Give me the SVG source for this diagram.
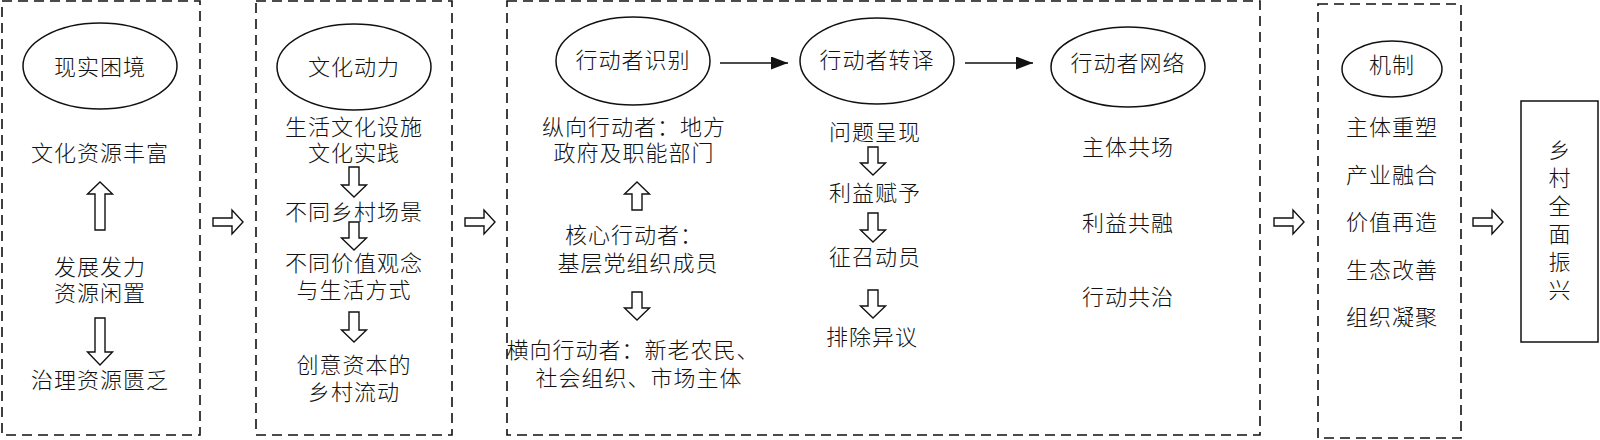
<svg xmlns="http://www.w3.org/2000/svg" width="1600" height="440" viewBox="0 0 1600 440">
<style>
.frame{fill:none;stroke:#111;stroke-width:1.6;stroke-dasharray:10 6}
.ell{fill:#fff;stroke:#111;stroke-width:1.5}
.box{fill:#fff;stroke:#111;stroke-width:1.5}
.hollow{fill:#fff;stroke:#111;stroke-width:1.4;stroke-linejoin:miter}
.conn{stroke:#111;stroke-width:1.6;fill:none}
text{font-family:"Liberation Sans","Noto Sans CJK SC",sans-serif;font-weight:300;font-size:22px;fill:#111;text-anchor:middle;dominant-baseline:central;letter-spacing:1px}
</style>
<defs>
<marker id="ah" markerWidth="17" markerHeight="13" refX="17" refY="6.5" orient="auto" markerUnits="userSpaceOnUse">
<path d="M0,0 L17,6.5 L0,13 Z" fill="#111"/>
</marker>
</defs>
<rect width="1600" height="440" fill="#fff"/>

<g id="stage1">
<rect class="frame" x="2" y="1" width="198" height="434"/>
<ellipse class="ell" cx="100" cy="66" rx="77" ry="43"/>
<text x="100" y="67">现实困境</text>
<text x="100" y="153">文化资源丰富</text>
<polygon class="hollow" points="100,182 112.5,194 105,194 105,230 95,230 95,194 87.5,194"/>
<text x="100" y="267">发展发力</text>
<text x="100" y="293">资源闲置</text>
<polygon class="hollow" points="95,318 105,318 105,352 112.5,352 100,365 87.5,352 95,352"/>
<text x="100" y="380">治理资源匮乏</text>
</g>

<g id="stage2">
<rect class="frame" x="256" y="1" width="196" height="434"/>
<ellipse class="ell" cx="354" cy="67" rx="77" ry="43"/>
<text x="354" y="67">文化动力</text>
<text x="354" y="127">生活文化设施</text>
<text x="354" y="153">文化实践</text>
<polygon class="hollow" points="349,167 359,167 359,185 366.5,185 354,197 341.5,185 349,185"/>
<text x="354" y="212">不同乡村场景</text>
<polygon class="hollow" points="349,222 359,222 359,238 366.5,238 354,250 341.5,238 349,238"/>
<text x="354" y="263">不同价值观念</text>
<text x="354" y="290">与生活方式</text>
<polygon class="hollow" points="349,312 359,312 359,330 366.5,330 354,342 341.5,330 349,330"/>
<text x="354" y="365">创意资本的</text>
<text x="354" y="392">乡村流动</text>
</g>

<g id="stage3">
<rect class="frame" x="507" y="1" width="753" height="434"/>
<g id="actor-identify">
<ellipse class="ell" cx="633" cy="61" rx="77" ry="44"/>
<text x="633" y="60">行动者识别</text>
<text x="634" y="127">纵向行动者：地方</text>
<text x="634" y="153">政府及职能部门</text>
<polygon class="hollow" points="637,182 649.5,194 642,194 642,210 632,210 632,194 624.5,194"/>
<text x="634" y="235">核心行动者：</text>
<text x="638" y="263">基层党组织成员</text>
<polygon class="hollow" points="632,292 642,292 642,308 649.5,308 637,320 624.5,308 632,308"/>
<text x="633" y="350">横向行动者：新老农民、</text>
<text x="639" y="378">社会组织、市场主体</text>
</g>
<g id="actor-translate">
<ellipse class="ell" cx="877" cy="61" rx="77" ry="43"/>
<text x="877" y="60">行动者转译</text>
<text x="875" y="132">问题呈现</text>
<polygon class="hollow" points="868,147 878,147 878,163 885.5,163 873,175 860.5,163 868,163"/>
<text x="875" y="193">利益赋予</text>
<polygon class="hollow" points="868,213 878,213 878,230 885.5,230 873,242 860.5,230 868,230"/>
<text x="875" y="257">征召动员</text>
<polygon class="hollow" points="868,290 878,290 878,306 885.5,306 873,318 860.5,306 868,306"/>
<text x="872" y="337">排除异议</text>
</g>
<g id="actor-network">
<ellipse class="ell" cx="1128" cy="67" rx="77" ry="40"/>
<text x="1128" y="63">行动者网络</text>
<text x="1128" y="147">主体共场</text>
<text x="1128" y="223">利益共融</text>
<text x="1128" y="297">行动共治</text>
</g>
</g>

<g id="stage4">
<rect class="frame" x="1318" y="4" width="143" height="434"/>
<ellipse class="ell" cx="1392" cy="69" rx="50" ry="28"/>
<text x="1392" y="65">机制</text>
<text x="1392" y="127">主体重塑</text>
<text x="1392" y="175">产业融合</text>
<text x="1392" y="222">价值再造</text>
<text x="1392" y="270">生态改善</text>
<text x="1392" y="317">组织凝聚</text>
</g>

<g id="result">
<rect class="box" x="1521" y="101" width="77" height="241"/>
<text x="1560" y="150">乡</text>
<text x="1560" y="178">村</text>
<text x="1560" y="206">全</text>
<text x="1560" y="234">面</text>
<text x="1560" y="262">振</text>
<text x="1560" y="290">兴</text>
</g>

<g id="connectors">
<line class="conn" x1="720" y1="63" x2="788" y2="63" marker-end="url(#ah)"/>
<line class="conn" x1="965" y1="63" x2="1033" y2="63" marker-end="url(#ah)"/>
<polygon class="hollow" points="213,218 232,218 232,210 243,222 232,234 232,226 213,226"/>
<polygon class="hollow" points="465,218 484,218 484,210 495,222 484,234 484,226 465,226"/>
<polygon class="hollow" points="1274,218 1293,218 1293,210 1304,222 1293,234 1293,226 1274,226"/>
<polygon class="hollow" points="1473,218 1492,218 1492,210 1503,222 1492,234 1492,226 1473,226"/>
</g>
</svg>
